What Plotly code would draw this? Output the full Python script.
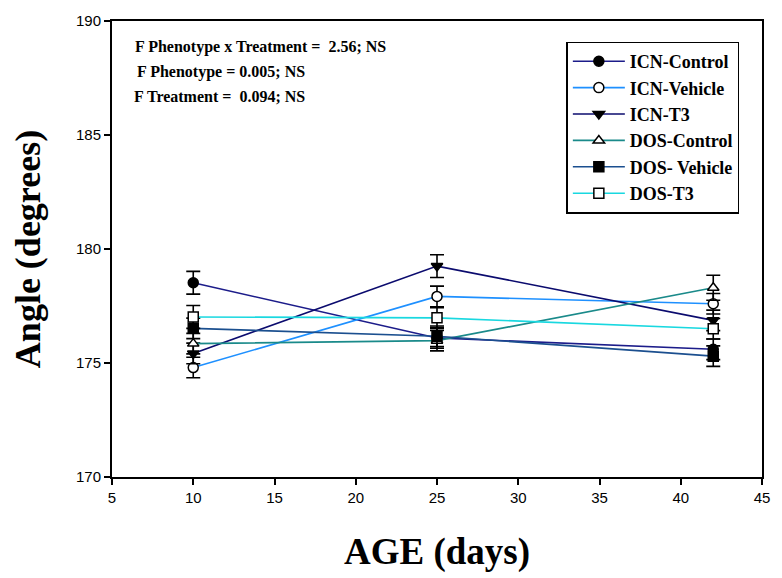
import plotly.graph_objects as go

ages = [10, 25, 42]
series_names = ["ICN-Control", "ICN-Vehicle", "ICN-T3", "DOS-Control", "DOS- Vehicle", "DOS-T3"]
icn_control = [178.52, 176.1, 175.6]
icn_vehicle = [174.8, 177.92, 177.6]
icn_t3 = [175.42, 179.25, 176.87]
dos_control = [175.85, 175.98, 178.3]
dos_vehicle = [176.52, 176.17, 175.3]
dos_t3 = [177.02, 176.98, 176.5]
icn_control_se = [0.5, 0.45, 0.45]
icn_vehicle_se = [0.45, 0.45, 0.45]
icn_t3_se = [0.45, 0.5, 0.45]
dos_control_se = [0.45, 0.45, 0.55]
dos_vehicle_se = [0.45, 0.45, 0.45]
dos_t3_se = [0.5, 0.45, 0.45]
stats_lines = ["F Phenotype x Treatment =  2.56; NS", "F Phenotype = 0.005; NS", "F Treatment =  0.094; NS"]
x_ticks = [5, 10, 15, 20, 25, 30, 35, 40, 45]
y_ticks = [170, 175, 180, 185, 190]

values = [icn_control, icn_vehicle, icn_t3, dos_control, dos_vehicle, dos_t3]
errors = [icn_control_se, icn_vehicle_se, icn_t3_se, dos_control_se, dos_vehicle_se, dos_t3_se]
colors = ["#1c1c8a", "#1e90ff", "#0b0b6e", "#1a8a8a", "#1b4f8f", "#19d8e0"]
symbols = ["circle", "circle", "triangle-down", "triangle-up", "square", "square"]
fills = ["black", "white", "black", "white", "black", "white"]

fig = go.Figure()
for name, vals, err, col, sym, fill in zip(series_names, values, errors, colors, symbols, fills):
    fig.add_trace(go.Scatter(
        x=ages, y=vals, name="<b>" + name + "</b>", mode="lines+markers",
        line=dict(color=col, width=1.6),
        marker=dict(symbol=sym, size=10, color=fill, line=dict(color="black", width=1.5)),
        error_y=dict(type="data", array=err, visible=True, color="black", thickness=1.6, width=7),
    ))

serif = "Liberation Serif, Times New Roman, serif"
sans = "Liberation Sans, Arial, sans-serif"

for i, t in enumerate(stats_lines):
    fig.add_annotation(x=[0.032, 0.035, 0.03][i], y=[0.943, 0.888, 0.834][i], xref="paper", yref="paper",
                       text="<b>" + t + "</b>", showarrow=False, xanchor="left", yanchor="middle",
                       font=dict(family=serif, size=16, color="black"))

fig.update_layout(
    width=782, height=578,
    margin=dict(l=112, r=12, t=17, b=101),
    plot_bgcolor="white", paper_bgcolor="white",
    showlegend=True,
    legend=dict(x=0.699, y=0.955, xanchor="left", yanchor="top",
                bordercolor="black", borderwidth=1.5, bgcolor="white",
                font=dict(family=serif, size=18, color="black"),
                tracegroupgap=0, itemwidth=52),
    xaxis=dict(range=[5, 45], tickvals=x_ticks, ticks="outside", ticklen=6, tickwidth=1.5,
               tickcolor="black", showline=True, linecolor="black", linewidth=2, mirror=True,
               showgrid=False, zeroline=False,
               tickfont=dict(family=sans, size=15, color="black"),
               title=dict(text="<b>AGE (days)</b>", font=dict(family=serif, size=37, color="black"), standoff=33)),
    yaxis=dict(range=[170, 190], tickvals=y_ticks, ticks="outside", ticklen=6, tickwidth=1.5,
               tickcolor="black", showline=True, linecolor="black", linewidth=2, mirror=True,
               showgrid=False, zeroline=False,
               tickfont=dict(family=sans, size=15, color="black"),
               title=dict(text="<b>Angle (degrees)</b>", font=dict(family=serif, size=36, color="black"), standoff=24)),
)

fig.write_html("out.html")
